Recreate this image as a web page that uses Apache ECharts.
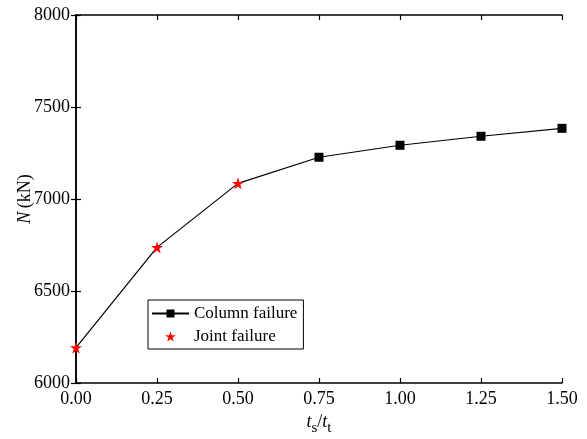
<!DOCTYPE html>
<html>
<head>
<meta charset="utf-8">
<script src="https://cdn.jsdelivr.net/npm/echarts@6/dist/echarts.min.js"></script>
<style>html,body{margin:0;padding:0;background:#fff;}#c{width:587px;height:439px;}</style>
</head>
<body>
<div id="c"></div>
<script>
// Data
var ratios = [0, 0.25, 0.50, 0.75, 1.00, 1.25, 1.50];
var loads = [6192, 6737, 7085, 7227, 7292, 7341, 7384];
var failureTypes = ['joint', 'joint', 'joint', 'column', 'column', 'column', 'column'];
var xTicks = [0, 0.25, 0.5, 0.75, 1.0, 1.25, 1.5];
var yTicks = [6000, 6500, 7000, 7500, 8000];
var seriesNames = ['Column failure', 'Joint failure'];

var FONT = 'Liberation Serif';
var columnData = ratios.map(function (x, i) {
  return { value: [x, loads[i]], symbolSize: failureTypes[i] === 'column' ? 9 : 0 };
});
var jointData = [];
ratios.forEach(function (x, i) { if (failureTypes[i] === 'joint') jointData.push([x, loads[i]]); });

var axisLine = { show: true, lineStyle: { color: '#000', width: 1.5 } };
var tick = { show: true, inside: true, length: 5, lineStyle: { color: '#000', width: 1.2 } };

var chart = echarts.init(document.getElementById('c'), null, { renderer: 'canvas' });
chart.setOption({
  animation: false,
  backgroundColor: '#fff',
  grid: { left: 76, right: 25, top: 15, bottom: 56, containLabel: false, outerBoundsMode: 'none' },
  legend: {
    left: 148, top: 300, orient: 'vertical',
    borderColor: '#000', borderWidth: 1, borderRadius: 0,
    padding: [5, 6, 4, 3], itemGap: 6, itemWidth: 37, itemHeight: 10,
    textStyle: { fontFamily: FONT, fontSize: 17, color: '#000', lineHeight: 17 },
    data: seriesNames
  },
  xAxis: [{
    type: 'value', min: xTicks[0], max: xTicks[xTicks.length - 1], interval: 0.25,
    axisLine: axisLine, axisTick: tick, splitLine: { show: false },
    axisLabel: { fontFamily: FONT, fontSize: 18, color: '#000', margin: 7,
      formatter: function (v) { return v.toFixed(2); } },
    name: '{i|t}{s|s}{n|/}{i|t}{s|t}', nameLocation: 'middle', nameGap: 28,
    nameTextStyle: { rich: {
      i: { fontFamily: FONT, fontSize: 18, fontStyle: 'italic', color: '#000', verticalAlign: 'bottom' },
      n: { fontFamily: FONT, fontSize: 18, color: '#000', verticalAlign: 'bottom' },
      s: { fontFamily: FONT, fontSize: 15, color: '#000', verticalAlign: 'bottom', padding: [0, 0, -5, 0] }
    } }
  }, {
    type: 'value', position: 'top', min: xTicks[0], max: xTicks[xTicks.length - 1], interval: 0.25,
    axisLine: axisLine, axisTick: tick, axisLabel: { show: false }, splitLine: { show: false }
  }],
  yAxis: [{
    type: 'value', min: yTicks[0], max: yTicks[yTicks.length - 1], interval: 500,
    axisLine: axisLine, axisTick: tick, splitLine: { show: false },
    axisLabel: { fontFamily: FONT, fontSize: 18, color: '#000', margin: 6,
      formatter: function (v) { return String(v); } },
    name: '{i|N} {n|(kN)}', nameLocation: 'middle', nameGap: 42, nameRotate: 90,
    nameMoveOverlap: false,
    nameTextStyle: { rich: {
      i: { fontFamily: FONT, fontSize: 18, fontStyle: 'italic', color: '#000' },
      n: { fontFamily: FONT, fontSize: 18, color: '#000' }
    } }
  }, {
    type: 'value', position: 'right', min: yTicks[0], max: yTicks[yTicks.length - 1], interval: 500,
    axisLine: axisLine, axisTick: tick, axisLabel: { show: false }, splitLine: { show: false }
  }],
  series: [{
    name: seriesNames[0], type: 'line', data: columnData,
    symbol: 'rect', symbolSize: 9, showAllSymbol: true,
    lineStyle: { color: '#000', width: 1.2 },
    itemStyle: { color: '#000' }, z: 2
  }, {
    name: seriesNames[1], type: 'scatter', data: jointData,
    symbol: 'path://M50,0 L61.2,34.5 L97.6,34.5 L68.2,55.9 L79.4,90.5 L50,69.1 L20.6,90.5 L31.8,55.9 L2.4,34.5 L38.8,34.5 Z',
    symbolSize: 12, itemStyle: { color: '#ff0000', opacity: 1 }, z: 3
  }]
});
</script>
</body>
</html>
